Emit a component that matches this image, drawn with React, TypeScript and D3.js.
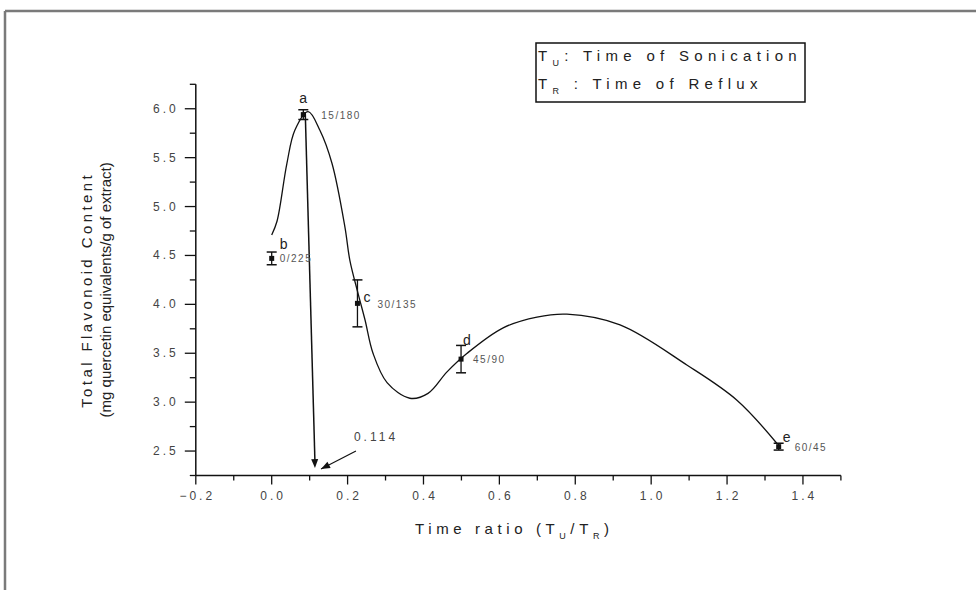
import React from 'react';
import * as d3 from 'd3';

// ---- data ----
const pointLabels = ['a', 'b', 'c', 'd', 'e'];
const ratioLabels = ['15/180', '0/225', '30/135', '45/90', '60/45'];
const pointX = [0.0833, 0.0, 0.226, 0.499, 1.336];
const pointY = [5.94, 4.47, 4.01, 3.44, 2.545];
const pointErr = [0.05, 0.065, 0.24, 0.14, 0.035];

// smoothed trend curve
const curveX = [0.0, 0.014, 0.04, 0.061, 0.096, 0.127, 0.159, 0.193, 0.206, 0.227, 0.246, 0.267, 0.304, 0.364, 0.412, 0.462, 0.515, 0.61, 0.699, 0.778, 0.918, 1.094, 1.226, 1.331];
const curveY = [4.71, 4.85, 5.44, 5.78, 5.97, 5.78, 5.44, 4.79, 4.45, 4.12, 3.84, 3.5, 3.2, 3.04, 3.09, 3.31, 3.5, 3.76, 3.87, 3.9, 3.79, 3.38, 3.02, 2.58];

// annotation: optimum ratio 0.114
const dropX = [0.0884, 0.114];
const dropY = [5.966, 2.326];
const pointerX = [0.222, 0.13];
const pointerY = [2.5, 2.316];
const annotationText = '0.114';

const xMajor = [-0.2, 0.0, 0.2, 0.4, 0.6, 0.8, 1.0, 1.2, 1.4];
const xMinor = [-0.1, 0.1, 0.3, 0.5, 0.7, 0.9, 1.1, 1.3, 1.5];
const yMajor = [2.5, 3.0, 3.5, 4.0, 4.5, 5.0, 5.5, 6.0];
const yMinor = [2.25, 2.75, 3.25, 3.75, 4.25, 4.75, 5.25, 5.75, 6.25];

// ---- layout (label offsets in px) ----
const letterDx = [-4, 8, 6, 2, 4];
const letterDy = [-12, -9, -1, -14, -5];
const ratioDx = [18, 8, 20, 12, 16];
const ratioDy = [4, 4, 5, 4, 4];

const W = 976;
const H = 590;
const FONT = "'Liberation Sans', Arial, sans-serif";

export default function App() {
  const x = d3.scaleLinear().domain([-0.2, 1.5]).range([195.8, 840.9]);
  const y = d3.scaleLinear().domain([2.25, 6.25]).range([475.5, 84.3]);
  const x0 = x(-0.2);
  const y0 = y(2.25);

  const curvePts: [number, number][] = curveX.map((v, i) => [x(v), y(curveY[i])]);
  const line = d3.line<[number, number]>().curve(d3.curveCatmullRom.alpha(0.5));
  const curvePath = line(curvePts) || '';

  const fmt = d3.format('.1f');

  const arrowHead = (x1: number, y1: number, x2: number, y2: number, len = 9, half = 3.5) => {
    const a = Math.atan2(y2 - y1, x2 - x1);
    const bx = x2 - len * Math.cos(a);
    const by = y2 - len * Math.sin(a);
    const px = -Math.sin(a) * half;
    const py = Math.cos(a) * half;
    return `M${x2},${y2}L${bx + px},${by + py}L${bx - px},${by - py}Z`;
  };

  const dx1 = x(dropX[0]), dy1 = y(dropY[0]), dx2 = x(dropX[1]), dy2 = y(dropY[1]);
  const px1 = x(pointerX[0]), py1 = y(pointerY[0]), px2 = x(pointerX[1]), py2 = y(pointerY[1]);

  return (
    <div style={{ position: 'absolute', left: 0, top: 0, width: W, height: H, background: '#fff' }}>
      <svg width={W} height={H} style={{ display: 'block', fontFamily: FONT }}>
        <rect x={0} y={0} width={W} height={H} fill="#fff" />
        {/* window frame */}
        <line x1={5} y1={11} x2={W} y2={11} stroke="#7a7a7a" strokeWidth={2.5} />
        <line x1={5} y1={11} x2={5} y2={H} stroke="#7a7a7a" strokeWidth={2.5} />

        {/* axes */}
        <line x1={x0} y1={y0} x2={x(1.5)} y2={y0} stroke="#111" strokeWidth={1.5} />
        <line x1={x0} y1={y0} x2={x0} y2={y(6.25)} stroke="#111" strokeWidth={1.5} />

        {xMajor.map((v) => (
          <g key={'xM' + v}>
            <line x1={x(v)} x2={x(v)} y1={y0} y2={y0 + 9} stroke="#111" strokeWidth={1.3} />
            <text x={x(v) + 1.5} y={y0 + 24} textAnchor="middle" fontSize={12} letterSpacing={3} fill="#444">
              {fmt(v)}
            </text>
          </g>
        ))}
        {xMinor.map((v) => (
          <line key={'xm' + v} x1={x(v)} x2={x(v)} y1={y0} y2={y0 + 5} stroke="#111" strokeWidth={1.3} />
        ))}
        {yMajor.map((v) => (
          <g key={'yM' + v}>
            <line x1={x0 - 11} x2={x0} y1={y(v)} y2={y(v)} stroke="#111" strokeWidth={1.3} />
            <text x={x0 - 17} y={y(v) + 4} textAnchor="end" fontSize={12} letterSpacing={3} fill="#444">
              {fmt(v)}
            </text>
          </g>
        ))}
        {yMinor.map((v) => (
          <line key={'ym' + v} x1={x0 - 6} x2={x0} y1={y(v)} y2={y(v)} stroke="#111" strokeWidth={1.3} />
        ))}

        {/* trend curve */}
        <path d={curvePath} fill="none" stroke="#111" strokeWidth={1.3} />

        {/* annotation arrows */}
        <line x1={dx1} y1={dy1} x2={dx2} y2={dy2 - 6} stroke="#111" strokeWidth={1.5} />
        <path d={arrowHead(dx1, dy1, dx2, dy2)} fill="#111" />
        <line x1={px1} y1={py1} x2={px2} y2={py2} stroke="#111" strokeWidth={1.2} />
        <path d={arrowHead(px1, py1, px2, py2)} fill="#111" />
        <text x={px1 - 2} y={py1 - 10} fontSize={12} letterSpacing={3} fill="#444">{annotationText}</text>

        {/* points with error bars */}
        {pointX.map((v, i) => {
          const cx = x(v);
          const cy = y(pointY[i]);
          const top = y(pointY[i] + pointErr[i]);
          const bot = y(pointY[i] - pointErr[i]);
          return (
            <g key={'p' + i}>
              <line x1={cx} x2={cx} y1={top} y2={bot} stroke="#111" strokeWidth={1.3} />
              <line x1={cx - 5} x2={cx + 5} y1={top} y2={top} stroke="#111" strokeWidth={1.5} />
              <line x1={cx - 5} x2={cx + 5} y1={bot} y2={bot} stroke="#111" strokeWidth={1.5} />
              <rect x={cx - 2.5} y={cy - 2.5} width={5} height={5} fill="#111" />
              <text x={cx + letterDx[i]} y={cy + letterDy[i]} fontSize={14} fill="#222">{pointLabels[i]}</text>
              <text x={cx + ratioDx[i]} y={cy + ratioDy[i]} fontSize={10} letterSpacing={1.5} fill="#555">{ratioLabels[i]}</text>
            </g>
          );
        })}

        {/* y axis title */}
        <g transform={`translate(92,${(y0 + y(6.25)) / 2 + 10}) rotate(-90)`}>
          <text x={0} y={0} textAnchor="middle" fontSize={15} letterSpacing={3.4} fill="#222">Total Flavonoid Content</text>
          <text x={0} y={19} textAnchor="middle" fontSize={15} fill="#222">(mg quercetin equivalents/g of extract)</text>
        </g>

        {/* x axis title */}
        <text x={415} y={534} fontSize={15} letterSpacing={4.6} fill="#222">
          Time ratio (T<tspan fontSize={9} dy={5}>U</tspan><tspan dy={-5}>/T</tspan><tspan fontSize={9} dy={5}>R</tspan><tspan dy={-5}>)</tspan>
        </text>

        {/* legend box */}
        <rect x={536} y={43} width={269} height={59} fill="#fff" stroke="#111" strokeWidth={1.5} />
        <text x={538} y={61} fontSize={15} letterSpacing={5.3} fill="#222">
          T<tspan fontSize={9} dy={5}>U</tspan><tspan dy={-5}>: Time of Sonication</tspan>
        </text>
        <text x={538} y={89} fontSize={15} letterSpacing={5.3} fill="#222">
          T<tspan fontSize={9} dy={5}>R</tspan><tspan dy={-5}> : Time of Reflux</tspan>
        </text>
      </svg>
    </div>
  );
}
